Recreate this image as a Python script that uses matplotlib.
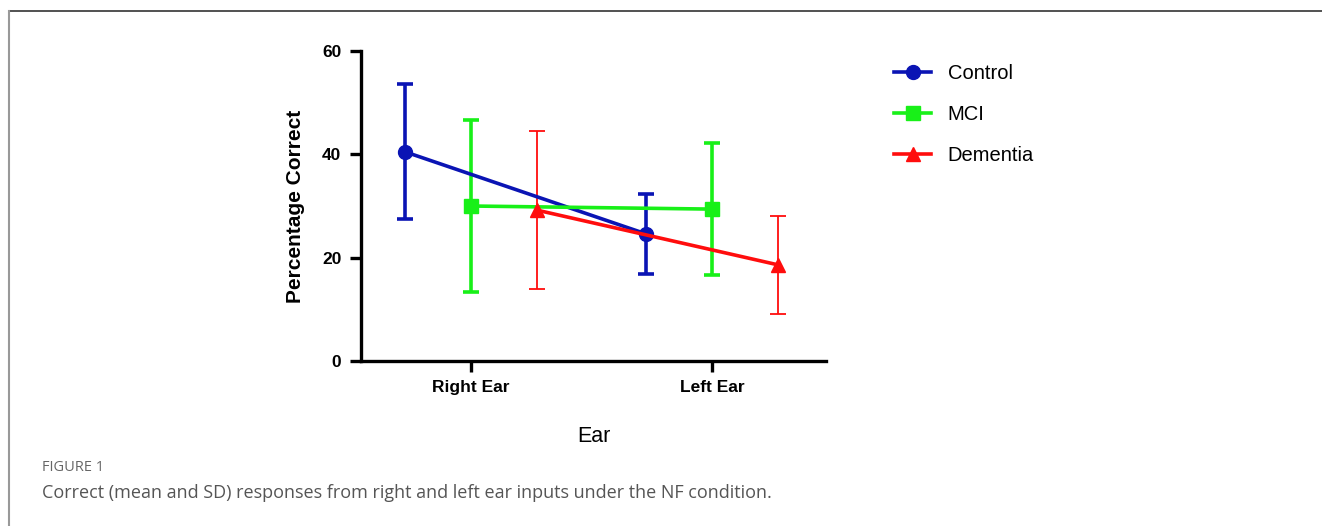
import numpy as np
import matplotlib.pyplot as plt
from matplotlib.lines import Line2D

plt.rcParams['font.family'] = ['Liberation Sans', 'DejaVu Sans']

ears = ['Right Ear', 'Left Ear']
groups = ['Control', 'MCI', 'Dementia']
means = {
    'Control': [40.5, 24.6],
    'MCI': [30.0, 29.4],
    'Dementia': [29.2, 18.6],
}
sds = {
    'Control': [13.1, 7.8],
    'MCI': [16.7, 12.7],
    'Dementia': [15.3, 9.5],
}
colors = {'Control': '#0a14b4', 'MCI': '#18f018', 'Dementia': '#ff0d0d'}
markers = {'Control': 'o', 'MCI': 's', 'Dementia': '^'}
offsets = {'Control': -0.274, 'MCI': 0.0, 'Dementia': 0.274}
err_lw = {'Control': 2.6, 'MCI': 2.6, 'Dementia': 1.3}

fig = plt.figure(figsize=(13.22, 5.26), dpi=100)
ax = fig.add_axes([0.273, 0.3137, 0.352, 0.5893])

x = np.arange(len(ears))
for g in groups:
    xs = x + offsets[g]
    ax.errorbar(xs, means[g], yerr=sds[g], color=colors[g], marker=markers[g],
                markersize=10, lw=2.6, elinewidth=err_lw[g], capsize=6,
                capthick=err_lw[g], zorder=3)

ax.set_xlim(-0.456, 1.473)
ax.set_ylim(0, 60)
ax.set_yticks([0, 20, 40, 60])
ax.set_xticks(x)
ax.set_xticklabels(ears, fontsize=12.5, fontweight='bold')
for lab in ax.get_yticklabels():
    lab.set_fontsize(12.5)
    lab.set_fontweight('bold')
ax.spines['top'].set_visible(False)
ax.spines['right'].set_visible(False)
for s in ['left', 'bottom']:
    ax.spines[s].set_linewidth(2.4)
ax.tick_params(width=2.4, length=8, pad=6)
ax.set_xlabel('Ear', fontsize=15.5, labelpad=22)
ax.set_ylabel('Percentage Correct', fontsize=15, fontweight='bold', labelpad=12)

handles = [Line2D([0], [0], color=colors[g], marker=markers[g], markersize=10,
                  lw=2.6) for g in groups]
fig.legend(handles, groups, loc='upper left', bbox_to_anchor=(0.6627, 0.912),
           frameon=False, fontsize=14.5, handlelength=1.85, labelspacing=1.08,
           handletextpad=0.8)

# page frame
fig.add_artist(Line2D([0.007, 1.0], [0.979, 0.979], color='#333333', lw=1.2))
fig.add_artist(Line2D([0.007, 0.007], [0.0, 0.979], color='#999999', lw=1.5))

fig.text(0.032, 0.104, 'FIGURE 1', fontsize=10.5, color='#666666',
         family=['Open Sans', 'DejaVu Sans'])
fig.text(0.032, 0.054, 'Correct (mean and SD) responses from right and left ear inputs under the NF condition.',
         fontsize=13, color='#555555', family=['Open Sans', 'DejaVu Sans'])

fig.savefig('out.png', dpi=100)
